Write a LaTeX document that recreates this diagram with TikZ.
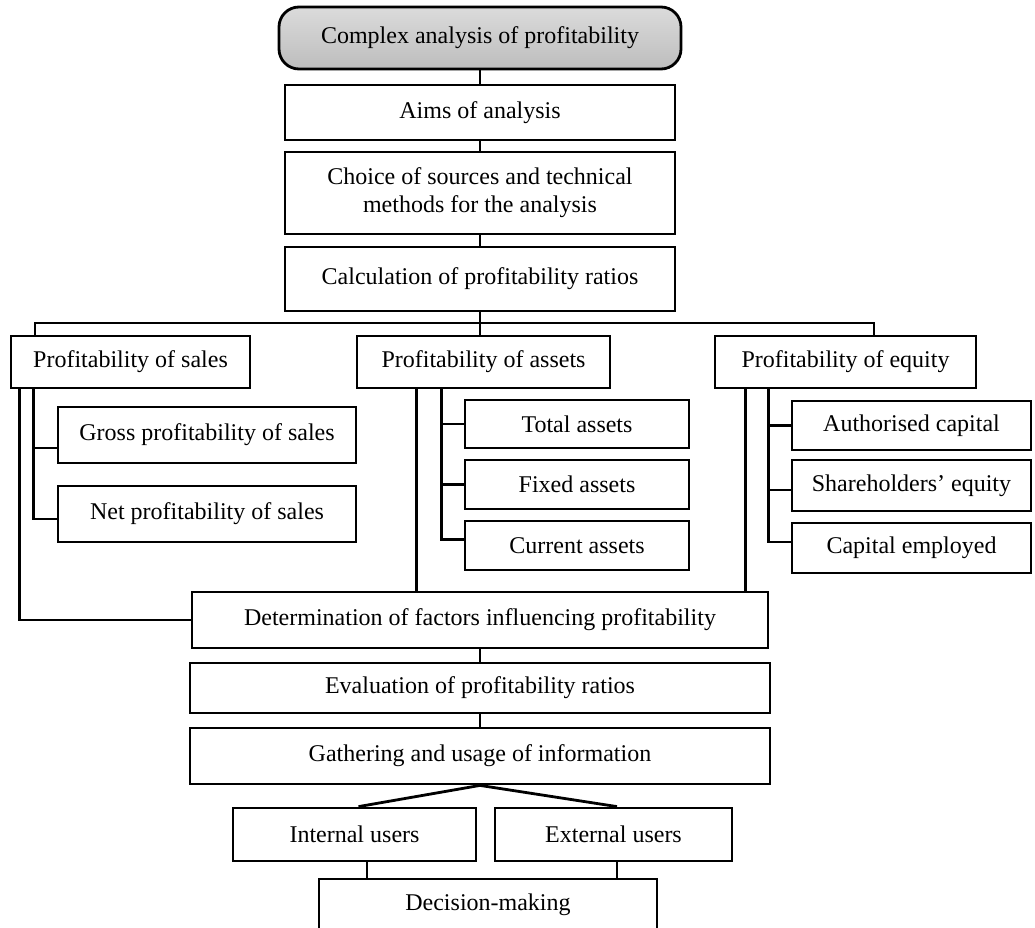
\documentclass[tikz,border=0pt]{standalone}
\usepackage{fontspec}
\setmainfont{Liberation Serif}
\begin{document}
\begin{tikzpicture}[x=1pt,y=-1pt,
  box/.style={draw=black,line width=2.8pt,fill=white,inner sep=0pt,align=center,
    font=\fontsize{24}{28}\selectfont},
  topbox/.style={box,rounded corners=20pt,top color=black!14,bottom color=black!26},
  conn/.style={draw=black,line width=2.8pt,line cap=rect}]
\useasboundingbox (0,0) rectangle (1035,928);
% main column
\node[topbox,minimum width=402pt,minimum height=62pt] (top) at (480,38) {Complex analysis of profitability};
\node[box,minimum width=390pt,minimum height=55pt] (aims) at (480,112.5) {Aims of analysis};
\node[box,minimum width=390pt,minimum height=82pt] (choice) at (480,193) {Choice of sources and technical\\methods for the analysis};
\node[box,minimum width=390pt,minimum height=64pt] (calc) at (480,279) {Calculation of profitability ratios};
% level 2
\node[box,minimum width=239pt,minimum height=52pt] (psales) at (130.5,362) {Profitability of sales};
\node[box,minimum width=253pt,minimum height=52pt] (passets) at (483.5,362) {Profitability of assets};
\node[box,minimum width=261pt,minimum height=52pt] (pequity) at (845.5,362) {Profitability of equity};
% sales children
\node[box,minimum width=298pt,minimum height=56pt] (gross) at (207,435) {Gross profitability of sales};
\node[box,minimum width=298pt,minimum height=56pt] (net) at (207,514) {Net profitability of sales};
% assets children
\node[box,minimum width=224pt,minimum height=48pt] (total) at (577,424) {Total assets};
\node[box,minimum width=224pt,minimum height=49pt] (fixed) at (577,484.5) {Fixed assets};
\node[box,minimum width=224pt,minimum height=49pt] (current) at (577,545.5) {Current assets};
% equity children
\node[box,minimum width=239pt,minimum height=49pt] (auth) at (911.5,425.5) {Authorised capital};
\node[box,minimum width=239pt,minimum height=51pt] (share) at (911.5,485.5) {Shareholders’ equity};
\node[box,minimum width=239pt,minimum height=50pt] (capemp) at (911.5,548) {Capital employed};
% lower column
\node[box,minimum width=576pt,minimum height=56pt] (determ) at (480,620) {Determination of factors influencing profitability};
\node[box,minimum width=580pt,minimum height=50pt] (eval) at (480,688) {Evaluation of profitability ratios};
\node[box,minimum width=580pt,minimum height=56pt] (gather) at (480,756) {Gathering and usage of information};
\node[box,minimum width=243pt,minimum height=53pt] (internal) at (354.5,834.5) {Internal users};
\node[box,minimum width=237pt,minimum height=53pt] (external) at (613.5,834.5) {External users};
\node[box,minimum width=338pt,minimum height=52pt] (decision) at (488,905) {Decision-making};
% connectors main column
\draw[conn] (top) -- (aims);
\draw[conn] (aims) -- (choice);
\draw[conn] (choice) -- (calc);
\coordinate (busL) at (35,323);
\coordinate (busR) at (874,323);
\draw[conn] (calc.south) -- (calc.south |- passets.north);
\draw[conn] (busL |- psales.north) -- (busL) -- (busR) -- (busR |- pequity.north);
% sales branch
\coordinate (sx) at ([xshift=24pt]psales.south west);
\coordinate (gs) at ([yshift=-13pt]gross.west);
\coordinate (ns) at ([yshift=-5pt]net.west);
\draw[conn] (sx) |- (ns);
\draw[conn] (sx |- gs) -- (gs);
\coordinate (so) at ([xshift=10pt]psales.south west);
\draw[conn] (so) |- (determ.west);
% assets branch
\coordinate (ax) at ([xshift=86pt]passets.south west);
\coordinate (cs) at ([yshift=6pt]current.west);
\draw[conn] (ax) |- (cs);
\draw[conn] (ax |- total.west) -- (total.west);
\draw[conn] (ax |- fixed.west) -- (fixed.west);
\coordinate (ao) at ([xshift=61pt]passets.south west);
\draw[conn] (ao) -- (ao |- determ.north);
% equity branch
\coordinate (ex) at ([xshift=55pt]pequity.south west);
\coordinate (shs) at ([yshift=-4.5pt]share.west);
\coordinate (ces) at ([yshift=6pt]capemp.west);
\draw[conn] (ex) |- (ces);
\draw[conn] (ex |- auth.west) -- (auth.west);
\draw[conn] (ex |- shs) -- (shs);
\coordinate (eo) at ([xshift=32pt]pequity.south west);
\draw[conn] (eo) -- (eo |- determ.north);
% lower column
\draw[conn] (determ) -- (eval);
\draw[conn] (eval) -- (gather);
\draw[conn,line cap=butt] ([xshift=4pt]internal.north) -- (gather.south) -- ([xshift=3.5pt]external.north);
\coordinate (id) at ([xshift=12.5pt]internal.south);
\coordinate (ed) at ([xshift=3.5pt]external.south);
\draw[conn] (id) -- (id |- decision.north);
\draw[conn] (ed) -- (ed |- decision.north);
\end{tikzpicture}
\end{document}
